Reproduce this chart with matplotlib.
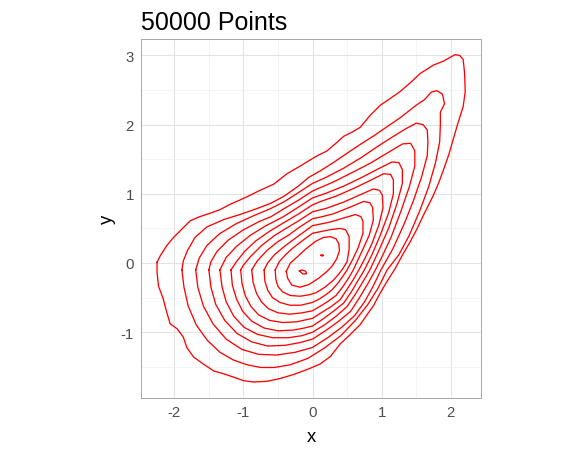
import matplotlib
matplotlib.use("Agg")
import matplotlib.pyplot as plt
from matplotlib.ticker import MultipleLocator

plt.rcParams['font.family'] = ['Liberation Sans', 'DejaVu Sans']
plt.rcParams['axes.unicode_minus'] = False

# 等高线（从图上读出的各层轮廓点，外 -> 内）
level_01 = [(-2.25, 0.01), (-2.25, -0.13), (-2.23, -0.33), (-2.16, -0.52), (-2.11, -0.71),
            (-2.06, -0.88), (-1.96, -0.95), (-1.87, -1.07), (-1.82, -1.22), (-1.72, -1.36),
            (-1.58, -1.46), (-1.43, -1.56), (-1.29, -1.60), (-1.14, -1.65), (-1.00, -1.70),
            (-0.85, -1.72), (-0.66, -1.71), (-0.47, -1.67), (-0.27, -1.61), (-0.08, -1.54),
            (0.11, -1.46), (0.26, -1.35), (0.40, -1.17), (0.54, -1.04), (0.69, -0.89),
            (0.78, -0.76), (0.88, -0.62), (0.97, -0.45), (1.07, -0.28), (1.19, -0.09),
            (1.31, 0.13), (1.41, 0.30), (1.51, 0.49), (1.60, 0.68), (1.66, 0.80),
            (1.75, 0.98), (1.83, 1.17), (1.90, 1.36), (1.97, 1.56), (2.04, 1.80),
            (2.11, 2.04), (2.18, 2.26), (2.21, 2.48), (2.20, 2.75), (2.18, 2.94),
            (2.13, 3.00), (2.06, 3.01), (1.90, 2.92), (1.75, 2.86), (1.56, 2.74),
            (1.41, 2.60), (1.27, 2.48), (1.10, 2.36), (0.98, 2.28), (0.84, 2.14),
            (0.69, 1.96), (0.57, 1.89), (0.45, 1.83), (0.35, 1.74), (0.21, 1.62),
            (0.05, 1.54), (-0.18, 1.40), (-0.37, 1.29), (-0.56, 1.14), (-0.76, 1.05),
            (-0.90, 0.98), (-1.05, 0.91), (-1.19, 0.85), (-1.34, 0.77), (-1.48, 0.72),
            (-1.63, 0.67), (-1.77, 0.61), (-1.89, 0.49), (-2.01, 0.37), (-2.11, 0.25),
            (-2.20, 0.11)]
level_02 = [(-1.89, -0.10), (-1.86, -0.35), (-1.80, -0.62), (-1.68, -0.90), (-1.52, -1.12),
            (-1.34, -1.29), (-1.15, -1.40), (-0.95, -1.47), (-0.75, -1.51), (-0.55, -1.51),
            (-0.32, -1.47), (-0.07, -1.38), (0.17, -1.23), (0.41, -1.05), (0.62, -0.83),
            (0.80, -0.60), (0.95, -0.36), (1.08, -0.10), (1.25, 0.12), (1.40, 0.40),
            (1.55, 0.75), (1.68, 1.10), (1.78, 1.45), (1.84, 1.75), (1.85, 2.00),
            (1.85, 2.18), (1.91, 2.30), (1.88, 2.44), (1.80, 2.49), (1.72, 2.47),
            (1.62, 2.36), (1.50, 2.28), (1.27, 2.10), (1.05, 1.95), (0.89, 1.84),
            (0.70, 1.72), (0.55, 1.62), (0.30, 1.45), (0.11, 1.33), (-0.05, 1.24),
            (-0.22, 1.10), (-0.42, 0.96), (-0.61, 0.86), (-0.85, 0.77), (-1.05, 0.70),
            (-1.28, 0.63), (-1.53, 0.52), (-1.70, 0.37), (-1.81, 0.18), (-1.87, 0.03)]
level_03 = [(-1.69, -0.10), (-1.66, -0.35), (-1.58, -0.62), (-1.44, -0.88), (-1.25, -1.10),
            (-1.02, -1.25), (-0.78, -1.32), (-0.52, -1.33), (-0.25, -1.29), (0.00, -1.22),
            (0.22, -1.08), (0.42, -0.93), (0.61, -0.76), (0.76, -0.55), (0.88, -0.33),
            (0.99, -0.10), (1.16, 0.20), (1.32, 0.55), (1.46, 0.90), (1.58, 1.25),
            (1.66, 1.55), (1.67, 1.75), (1.66, 1.92), (1.60, 2.00), (1.50, 2.02),
            (1.35, 1.94), (1.17, 1.83), (0.95, 1.69), (0.70, 1.52), (0.45, 1.37),
            (0.20, 1.24), (0.00, 1.15), (-0.20, 1.02), (-0.42, 0.88), (-0.62, 0.78),
            (-0.86, 0.68), (-1.10, 0.57), (-1.35, 0.42), (-1.53, 0.25), (-1.64, 0.07)]
level_04 = [(-1.50, -0.10), (-1.47, -0.35), (-1.40, -0.60), (-1.27, -0.83), (-1.09, -1.02),
            (-0.88, -1.14), (-0.65, -1.20), (-0.40, -1.19), (-0.18, -1.15), (0.00, -1.10),
            (0.20, -0.97), (0.38, -0.84), (0.55, -0.70), (0.68, -0.50), (0.80, -0.30),
            (0.91, -0.10), (1.02, 0.12), (1.14, 0.38), (1.28, 0.75), (1.40, 1.10),
            (1.48, 1.40), (1.48, 1.62), (1.42, 1.73), (1.30, 1.72), (1.10, 1.60),
            (0.85, 1.45), (0.60, 1.32), (0.30, 1.17), (0.00, 1.04), (-0.20, 0.91),
            (-0.42, 0.78), (-0.60, 0.67), (-0.77, 0.60), (-1.00, 0.48), (-1.22, 0.33),
            (-1.38, 0.17), (-1.47, 0.02)]
level_05 = [(-1.34, -0.10), (-1.31, -0.34), (-1.25, -0.56), (-1.14, -0.77), (-0.99, -0.93),
            (-0.80, -1.03), (-0.58, -1.08), (-0.35, -1.08), (-0.15, -1.05), (0.00, -1.00),
            (0.18, -0.89), (0.34, -0.77), (0.50, -0.63), (0.62, -0.45), (0.73, -0.27),
            (0.83, -0.10), (0.96, 0.18), (1.10, 0.50), (1.22, 0.85), (1.30, 1.15),
            (1.30, 1.35), (1.25, 1.45), (1.15, 1.46), (0.95, 1.36), (0.70, 1.23),
            (0.45, 1.11), (0.20, 1.01), (0.00, 0.94), (-0.20, 0.81), (-0.42, 0.67),
            (-0.69, 0.53), (-0.90, 0.40), (-1.10, 0.24), (-1.25, 0.08)]
level_06 = [(-1.18, -0.10), (-1.16, -0.32), (-1.10, -0.52), (-1.01, -0.70), (-0.88, -0.84),
            (-0.70, -0.94), (-0.50, -0.98), (-0.28, -0.97), (-0.12, -0.94), (0.00, -0.91),
            (0.15, -0.81), (0.30, -0.70), (0.45, -0.58), (0.56, -0.42), (0.66, -0.25),
            (0.75, -0.10), (0.86, 0.12), (0.98, 0.40), (1.10, 0.72), (1.17, 1.00),
            (1.17, 1.20), (1.13, 1.28), (1.03, 1.29), (0.85, 1.20), (0.60, 1.08),
            (0.35, 0.97), (0.12, 0.89), (0.00, 0.84), (-0.20, 0.71), (-0.42, 0.58),
            (-0.62, 0.46), (-0.82, 0.32), (-0.98, 0.17), (-1.10, 0.02)]
level_07 = [(-1.04, -0.10), (-1.02, -0.30), (-0.97, -0.48), (-0.89, -0.63), (-0.78, -0.75),
            (-0.62, -0.83), (-0.43, -0.86), (-0.23, -0.85), (0.00, -0.80), (0.14, -0.71),
            (0.27, -0.63), (0.40, -0.53), (0.50, -0.38), (0.59, -0.24), (0.67, -0.10),
            (0.76, 0.07), (0.86, 0.28), (0.96, 0.55), (1.02, 0.80), (1.01, 0.98),
            (0.97, 1.05), (0.88, 1.07), (0.70, 0.99), (0.45, 0.88), (0.20, 0.79),
            (0.00, 0.74), (-0.20, 0.61), (-0.40, 0.49), (-0.56, 0.39), (-0.74, 0.25),
            (-0.90, 0.09), (-1.00, -0.03)]
level_08 = [(-0.88, -0.10), (-0.86, -0.28), (-0.81, -0.44), (-0.74, -0.56), (-0.64, -0.66),
            (-0.50, -0.72), (-0.33, -0.74), (-0.15, -0.72), (0.00, -0.69), (0.12, -0.62),
            (0.23, -0.55), (0.34, -0.47), (0.44, -0.34), (0.52, -0.22), (0.59, -0.10),
            (0.72, 0.18), (0.82, 0.40), (0.88, 0.62), (0.87, 0.80), (0.83, 0.87),
            (0.74, 0.89), (0.55, 0.81), (0.30, 0.71), (0.10, 0.66), (0.00, 0.64),
            (-0.20, 0.51), (-0.35, 0.40), (-0.50, 0.31), (-0.66, 0.18), (-0.80, 0.03)]
level_09 = [(-0.70, -0.10), (-0.69, -0.26), (-0.65, -0.39), (-0.58, -0.50), (-0.47, -0.57),
            (-0.33, -0.61), (-0.17, -0.61), (0.00, -0.57), (0.10, -0.52), (0.19, -0.46),
            (0.27, -0.40), (0.36, -0.30), (0.44, -0.19), (0.50, -0.10), (0.58, 0.05),
            (0.66, 0.22), (0.73, 0.43), (0.73, 0.60), (0.70, 0.67), (0.62, 0.70),
            (0.45, 0.65), (0.25, 0.59), (0.00, 0.54), (-0.15, 0.43), (-0.30, 0.32),
            (-0.42, 0.23), (-0.55, 0.12), (-0.65, 0.00)]
level_10 = [(-0.54, -0.10), (-0.53, -0.24), (-0.50, -0.34), (-0.43, -0.42), (-0.32, -0.47),
            (-0.18, -0.48), (-0.05, -0.46), (0.05, -0.43), (0.18, -0.35), (0.30, -0.25),
            (0.38, -0.16), (0.44, -0.08), (0.50, 0.02), (0.53, 0.20), (0.53, 0.38),
            (0.48, 0.48), (0.40, 0.50), (0.25, 0.48), (0.10, 0.45), (0.00, 0.43),
            (-0.15, 0.32), (-0.28, 0.22), (-0.38, 0.13), (-0.48, 0.02)]
level_11 = [(-0.38, -0.12), (-0.36, -0.22), (-0.30, -0.32), (-0.18, -0.35), (-0.05, -0.31),
            (0.09, -0.22), (0.20, -0.13), (0.28, -0.05), (0.35, 0.06), (0.39, 0.18),
            (0.38, 0.28), (0.34, 0.35), (0.26, 0.38), (0.16, 0.37), (0.04, 0.31),
            (-0.10, 0.20), (-0.22, 0.09), (-0.32, 0.00)]
level_12a = [(-0.19, -0.115), (-0.14, -0.16), (-0.085, -0.155), (-0.10, -0.12), (-0.15, -0.10)]
level_12b = [(0.12, 0.11), (0.14, 0.10), (0.16, 0.11), (0.14, 0.12)]

contours = [level_01, level_02, level_03, level_04, level_05, level_06, level_07,
            level_08, level_09, level_10, level_11, level_12a, level_12b]

x_ticks = [-2, -1, 0, 1, 2]
y_ticks = [-1, 0, 1, 2, 3]

fig = plt.figure(figsize=(8, 6.3333), dpi=72)
ax = fig.add_axes([141 / 576, 1 - 399 / 456, 340 / 576, 359 / 456])

for pts in contours:
    xs = [p[0] for p in pts] + [pts[0][0]]
    ys = [p[1] for p in pts] + [pts[0][1]]
    ax.plot(xs, ys, color='red', lw=1.3, solid_joinstyle='round', zorder=3)

ax.set_xlim(-2.482, 2.438)
ax.set_ylim(-1.951, 3.237)

ax.set_xticks(x_ticks)
ax.set_yticks(y_ticks)
ax.xaxis.set_minor_locator(MultipleLocator(0.5))
ax.yaxis.set_minor_locator(MultipleLocator(0.5))
ax.grid(True, which='major', color='#E3E3E3', lw=1.1, zorder=0)
ax.grid(True, which='minor', color='#F0F0F0', lw=0.7, zorder=0)
ax.set_axisbelow(True)
ax.tick_params(which='both', length=0, labelsize=15, labelcolor='#4D4D4D', pad=7)

for s in ax.spines.values():
    s.set_color('#A8A8A8')
    s.set_linewidth(1.0)

ax.set_xlabel('x', fontsize=18.5, labelpad=9)
ax.set_ylabel('y', fontsize=18.5, labelpad=5)
ax.set_title('50000 Points', loc='left', fontsize=25, pad=10)

fig.savefig('out.png', dpi=72)
